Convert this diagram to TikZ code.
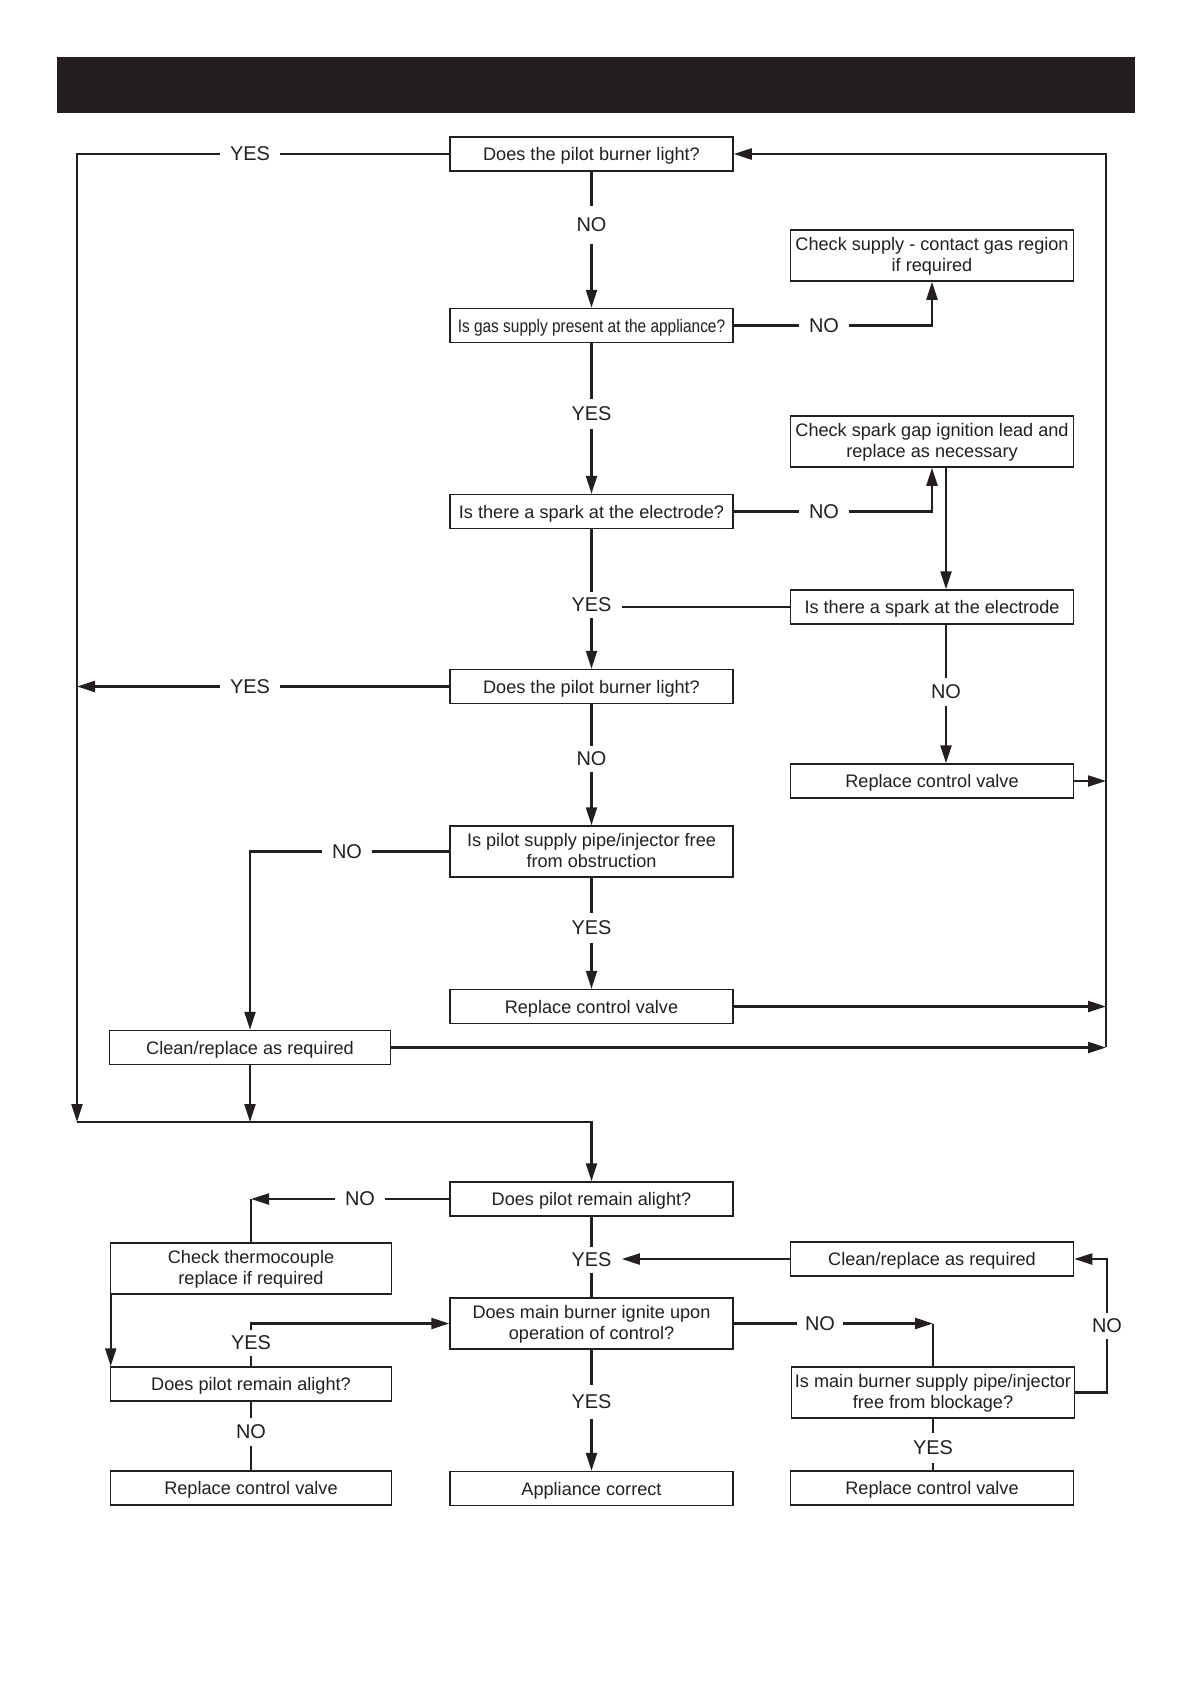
\documentclass[tikz,border=0pt]{standalone}
\usepackage{fontspec}
\setmainfont{Liberation Sans}
\usepackage{graphicx}
\usepackage{xcolor}
\usetikzlibrary{arrows.meta, positioning, calc}
\definecolor{ink}{HTML}{231F20}
\newcommand{\boxfont}{\fontsize{9.1}{10.5}\selectfont}
\newcommand{\lblfont}{\fontsize{10}{12}\selectfont}
\newcommand{\narrowtext}[1]{\scalebox{0.85}[1]{#1}}

\begin{document}
\begin{tikzpicture}[>={Triangle[length=9bp,width=5.5bp]}, x=0.5bp, y=-0.5bp, line/.style={draw=ink, line width=1.1bp}, border/.style={draw=ink, line width=0.75bp}]
% Define styles for blocks and labels
\tikzstyle{block} = [draw, fill=white, rectangle, minimum height=17bp, minimum width=141.5bp, inner xsep=1.5bp, inner ysep=1bp, text depth=0pt, align=center, font=\boxfont, text=ink, border]
\tikzstyle{tall} = [minimum height=25.5bp, text depth=1.5bp]
\tikzstyle{lbl} = [inner xsep=5bp, inner ysep=3.5bp, font=\lblfont, text=ink]

\useasboundingbox (0,0) rectangle (1191,1683);
\fill[ink] (57,57) rectangle (1135,113);

% Rails
\coordinate (lt) at (77,154);
\coordinate (lb) at (77,1122);
\coordinate (rt) at (1106,154);
\coordinate (rb) at (1106,1047);

% Nodes placement - centre column
\node [block] (q1) at (591.5,154) {Does the pilot burner light?};
\node [block] (q2) at (591.5,325.5) {\narrowtext{Is gas supply present at the appliance?}};
\node [block] (q3) at (591.5,511.5) {Is there a spark at the electrode?};
\node [block] (q4) at (591.5,686.5) {Does the pilot burner light?};
\node [block, tall] (q5) at (591.5,851.5) {Is pilot supply pipe/injector free\\from obstruction};
\node [block] (rv1) at (591.5,1006.5) {Replace control valve};
\node [block] (alight) at (591.5,1199) {Does pilot remain alight?};
\node [block, tall] (burner) at (591.5,1323.5) {Does main burner ignite upon\\operation of control?};
\node [block] (correct) at (591.5,1488.5) {Appliance correct};

% Right column
\node [block, tall] (supply) at (932,255.5) {Check supply - contact gas region\\if required};
\node [block, tall] (gap) at (932,441.5) {Check spark gap ignition lead and\\replace as necessary};
\node [block] (spark2) at (932,607) {Is there a spark at the electrode};
\node [block] (rv2) at (932,781) {Replace control valve};
\node [block] (clean2) at (932,1259) {Clean/replace as required};
\node [block, tall] (blockage) at (933,1392.5) {Is main burner supply pipe/injector\\free from blockage?};
\node [block] (rv4) at (932,1488) {Replace control valve};

% Left column
\node [block, minimum width=140.5bp] (clean1) at (250,1047.5) {Clean/replace as required};
\node [block, tall, minimum width=140.5bp] (thermo) at (251,1268.5) {Check thermocouple\\replace if required};
\node [block, minimum width=140.5bp] (alight2) at (251,1384) {Does pilot remain alight?};
\node [block, minimum width=140.5bp] (rv3) at (251,1488) {Replace control valve};

% Labels
\node [lbl] (yes1) at (250,154) {YES};
\node [lbl, inner ysep=5.6bp] (no1) at (591.5,225) {NO};
\node [lbl] (no2) at (824,325.5) {NO};
\node [lbl, inner ysep=4bp] (yes2) at (591.5,414) {YES};
\node [lbl] (no3) at (824,511.5) {NO};
\node [lbl, inner ysep=3bp] (yes3) at (591.5,605) {YES};
\node [lbl] (yes4) at (250,686.5) {YES};
\node [lbl, inner ysep=3.5bp] (no6) at (946,692) {NO};
\node [lbl, inner ysep=3bp] (no4) at (591.5,759) {NO};
\node [lbl] (no5) at (347,851.5) {NO};
\node [lbl, inner ysep=4bp] (yes5) at (591.5,928) {YES};
\node [lbl] (no7) at (360,1199) {NO};
\node [lbl, inner ysep=3bp] (yes7) at (591.5,1260) {YES};
\node [lbl, inner ysep=3bp] (yes8) at (251,1343) {YES};
\node [lbl] (no9) at (251,1432) {NO};
\node [lbl, inner ysep=5bp] (yes9) at (591.5,1402) {YES};
\node [lbl, inner xsep=4bp] (no10) at (820,1323.5) {NO};
\node [lbl, inner ysep=3bp] (no11) at (1107,1326) {NO};
\node [lbl, inner ysep=4bp] (yes10) at (933,1448) {YES};

% Draw edges - upper part
\draw[line] (q1.west) -- (yes1.east);
\draw[line,->] (yes1.west) -- (lt) -- (lb);
\draw[line,->] (rb) -- (rt) -- (q1.east);
\draw[line] (q1.south) -- (no1.north);
\draw[line,->] (no1.south) -- (q2.north);
\draw[line] (q2.east) -- (no2.west);
\draw[line,->] (no2.east) -| (supply.south);
\draw[line] (q2.south) -- (yes2.north);
\draw[line,->] (yes2.south) -- (q3.north);
\draw[line] (q3.east) -- (no3.west);
\draw[line,->] (no3.east) -| (gap.south);
\draw[line,->] ([xshift=7bp]gap.south) -- ([xshift=7bp]spark2.north);
\draw[line] (q3.south) -- (yes3.north);
\draw[line,->] (yes3.south) -- (q4.north);
\draw[line] (yes3.east |- spark2.west) -- (spark2.west);
\draw[line] (spark2.south -| no6) -- (no6.north);
\draw[line,->] (no6.south) -- (rv2.north -| no6);
\draw[line,->] (rv2.east) -- (rv2.east -| rt);
\draw[line] (q4.west) -- (yes4.east);
\draw[line,->] (yes4.west) -- (q4.west -| lt);
\draw[line] (q4.south) -- (no4.north);
\draw[line,->] (no4.south) -- (q5.north);
\draw[line] (q5.west) -- (no5.east);
\draw[line,->] (no5.west) -| (clean1.north);
\draw[line] (q5.south) -- (yes5.north);
\draw[line,->] (yes5.south) -- (rv1.north);
\draw[line,->] (rv1.east) -- (rv1.east -| rt);
\draw[line,->] (clean1.east) -- (clean1.east -| rt);
\draw[line,->] (clean1.south) -- (clean1.south |- lb);
\draw[line,->] (lb) -| (alight.north);

% Draw edges - lower part
\draw[line] (alight.west) -- (no7.east);
\draw[line,->] (no7.west) -- (thermo.north |- no7.west);
\draw[line] (thermo.north) -- (thermo.north |- no7.west);
\draw[line,->] ([xshift=0.5bp]thermo.south west) -- ([xshift=0.5bp]thermo.south west |- alight2.north);
\draw[line] (alight2.north) -- (yes8.south);
\draw[line,->] (yes8.north) |- (burner.west);
\draw[line] (alight2.south) -- (no9.north);
\draw[line] (no9.south) -- (rv3.north);
\draw[line] (alight.south) -- (yes7.north);
\draw[line] (yes7.south) -- (burner.north);
\draw[line,->] (clean2.west) -- (clean2.west -| yes7.east);
\draw[line] (burner.south) -- (yes9.north);
\draw[line,->] (yes9.south) -- (correct.north);
\draw[line] (burner.east) -- (no10.west);
\draw[line,->] (no10.east) -- (blockage.north |- no10.east);
\draw[line] (blockage.north) -- (blockage.north |- no10.east);
\draw[line] (blockage.east) -| (no11.south);
\draw[line,->] (no11.north) |- (clean2.east);
\draw[line] (blockage.south) -- (yes10.north);
\draw[line] (yes10.south) -- (rv4.north -| yes10);
\end{tikzpicture}
\end{document}
